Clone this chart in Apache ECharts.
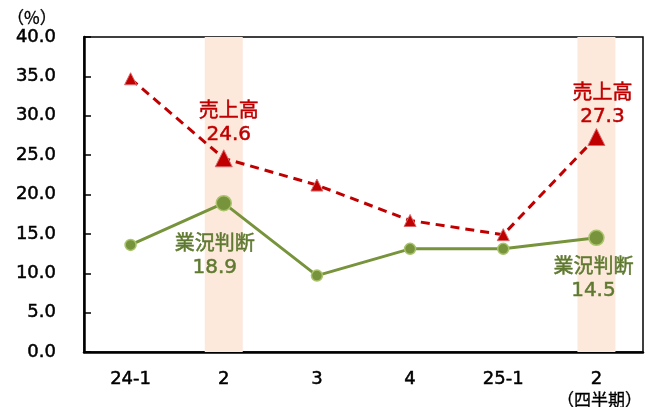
<!DOCTYPE html>
<html><head><meta charset="utf-8">
<script src="https://cdn.jsdelivr.net/npm/echarts@6/dist/echarts.min.js"></script>
<style>html,body{margin:0;padding:0;background:#fff}#c{width:654px;height:407px}</style>
</head><body><div id="c"></div>
<script>
const categories = ['24-1', '2', '3', '4', '25-1', '2'];
const salesValues = [34.7, 24.6, 21.2, 16.7, 14.9, 27.3];
const conditionValues = [13.6, 18.9, 9.7, 13.1, 13.1, 14.5];
const highlightIndex = [1, 5];
const yTicks = { min: 0, max: 40, interval: 5 };
const salesName = '売上高';
const conditionName = '業況判断';

const RED = '#c00000', GREEN = '#77933c', GREEN_TXT = '#5f7a30';
const FONT = 'DejaVu Sans, "Noto Sans CJK JP", sans-serif';
const CJK = '"Noto Sans CJK JP", sans-serif';

const salesLabelOffsets = {1: [5, 2], 5: [6, 5]};
const condLabelOffsets = {1: [-9, 17], 5: [-3, 5]};

const salesData = salesValues.map((v, i) => {
  const hi = highlightIndex.includes(i);
  const o = { value: v, symbolSize: hi ? 17 : 12 };
  if (hi) o.label = { show: true, position: 'top', offset: salesLabelOffsets[i],
    formatter: salesName + '\n' + v.toFixed(1), color: RED, fontSize: 20, lineHeight: 23, fontFamily: FONT,
    textBorderColor: RED, textBorderWidth: 0.5 };
  return o;
});
const condData = conditionValues.map((v, i) => {
  const hi = highlightIndex.includes(i);
  const o = { value: v, symbolSize: hi ? 15 : 11 };
  if (hi) o.label = { show: true, position: 'bottom', offset: condLabelOffsets[i],
    formatter: conditionName + '\n' + v.toFixed(1), color: GREEN_TXT, fontSize: 20, lineHeight: 23, fontFamily: FONT,
    textBorderColor: GREEN_TXT, textBorderWidth: 0.5 };
  return o;
});
const bandData = categories.map((c, i) => highlightIndex.includes(i) ? yTicks.max : null);

const axisText = { color: '#000', fontSize: 18, fontFamily: FONT, textBorderColor: '#000', textBorderWidth: 0.5 };

const chart = echarts.init(document.getElementById('c'), null, { renderer: 'canvas' });
chart.setOption({
  animation: false,
  title: [
    { text: '（%）', left: 2, top: 4, textStyle: { fontSize: 17, fontWeight: 'normal', color: '#000', fontFamily: CJK, textBorderColor: '#000', textBorderWidth: 0.3 } },
    { text: '（四半期）', left: 552, top: 386, textStyle: { fontSize: 17, fontWeight: 'normal', color: '#000', fontFamily: CJK, textBorderColor: '#000', textBorderWidth: 0.3 } }
  ],
  grid: { left: 84, right: 11, top: 37, bottom: 55, show: true, borderColor: '#000', borderWidth: 1.5, backgroundColor: 'transparent' },
  xAxis: {
    type: 'category', data: categories, boundaryGap: true,
    axisLine: { lineStyle: { color: '#000', width: 2.5 } },
    axisTick: { inside: true, length: 6, lineStyle: { color: '#000', width: 1.5 } },
    axisLabel: Object.assign({ margin: 18 }, axisText),
    splitLine: { show: false }
  },
  yAxis: {
    type: 'value', min: yTicks.min, max: yTicks.max, interval: yTicks.interval,
    axisLine: { show: true, lineStyle: { color: '#000', width: 2.5 } },
    axisTick: { show: true, inside: true, length: 7, lineStyle: { color: '#000', width: 1.5 } },
    axisLabel: Object.assign({ margin: 28, formatter: v => v.toFixed(1) }, axisText),
    splitLine: { show: false }
  },
  series: [
    { type: 'bar', data: bandData, barWidth: 38, itemStyle: { color: '#fde9dc' }, silent: true, z: 1 },
    { type: 'line', name: conditionName, data: condData, symbol: 'circle',
      lineStyle: { color: GREEN, width: 3 },
      itemStyle: { color: GREEN, borderColor: '#a9c46a', borderWidth: 1.5 }, z: 3 },
    { type: 'line', name: salesName, data: salesData, symbol: 'triangle',
      lineStyle: { color: RED, width: 3, type: [9, 6] },
      itemStyle: { color: RED, borderColor: '#d9686a', borderWidth: 1 }, z: 4 }
  ]
});
</script></body></html>
